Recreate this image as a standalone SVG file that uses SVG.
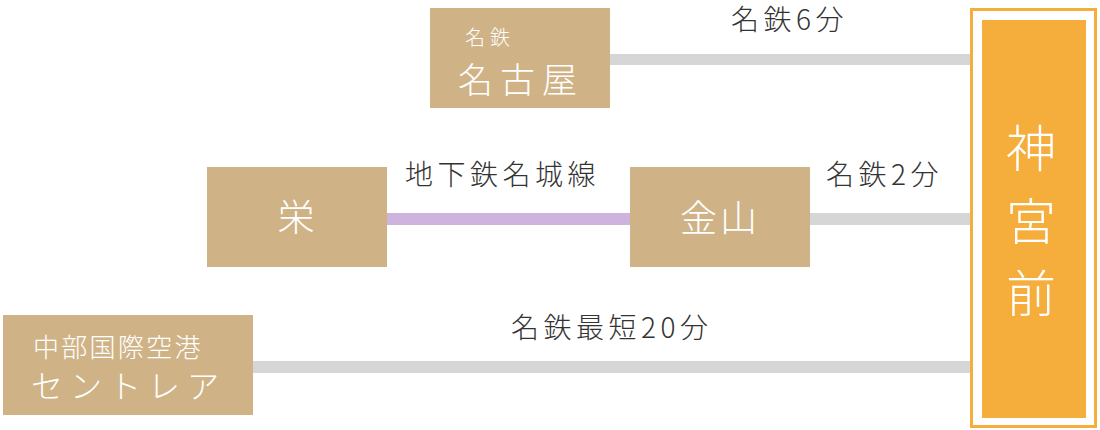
<svg xmlns="http://www.w3.org/2000/svg" width="1100" height="430" viewBox="0 0 1100 430">
<style>
text{font-family:"Noto Sans CJK JP","Noto Sans",sans-serif;font-weight:300}
.box{fill:#CFB387}
.w{fill:#fff}
.lbl{fill:#333;font-size:28px;letter-spacing:4.5px}
.gray{fill:#D6D6D6}
</style>
<g id="connectors">
<rect class="gray" x="610" y="54" width="360" height="11"/>
<rect x="387" y="213" width="243" height="12" fill="#CDB3DD"/>
<rect class="gray" x="810" y="213" width="160" height="12"/>
<rect class="gray" x="253" y="361" width="717" height="12"/>
<text class="lbl" x="731" y="30">名鉄6分</text>
<text class="lbl" x="405" y="185" font-size="27" letter-spacing="7">地下鉄名城線</text>
<text class="lbl" x="826" y="185">名鉄2分</text>
<text class="lbl" x="511" y="338">名鉄最短20分</text>
</g>
<g id="meitetsu-nagoya">
<rect class="box" x="430" y="8" width="180" height="100"/>
<text class="w" x="465" y="45" font-size="20" letter-spacing="5">名鉄</text>
<text class="w" x="458" y="93" font-size="35" letter-spacing="7">名古屋</text>
</g>
<g id="sakae">
<rect class="box" x="207" y="167" width="180" height="100"/>
<text class="w" x="296" y="231" font-size="37" text-anchor="middle">栄</text>
</g>
<g id="kanayama">
<rect class="box" x="630" y="167" width="180" height="100"/>
<text class="w" x="680" y="232" font-size="37" letter-spacing="3">金山</text>
</g>
<g id="centrair">
<rect class="box" x="3" y="315" width="250" height="100"/>
<text class="w" x="33" y="357" font-size="26" letter-spacing="2.3">中部国際空港</text>
<text class="w" x="31" y="398" font-size="32" letter-spacing="7">セントレア</text>
</g>
<g id="jingumae">
<rect x="971.5" y="9.5" width="124" height="417" fill="#fff" stroke="#F5AD3B" stroke-width="3"/>
<rect x="982" y="20" width="104" height="398" fill="#F5AD3B"/>
<text class="w" font-size="50" text-anchor="middle"><tspan x="1031" y="167">神</tspan><tspan x="1031" y="240">宮</tspan><tspan x="1031" y="312">前</tspan></text>
</g>
</svg>
